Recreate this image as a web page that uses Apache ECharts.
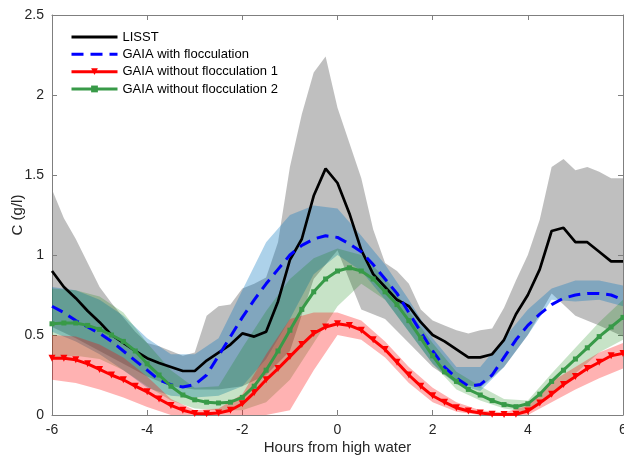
<!DOCTYPE html>
<html>
<head>
<meta charset="utf-8">
<script src="https://cdn.jsdelivr.net/npm/echarts@6/dist/echarts.min.js"></script>
<style>
html,body{margin:0;padding:0;background:#fff;}
#chart{width:624px;height:459px;}
</style>
</head>
<body>
<div id="chart"></div>
<script>
// ---- data ----
var hours = [-6,-5.75,-5.5,-5.25,-5,-4.75,-4.5,-4.25,-4,-3.75,-3.5,-3.25,-3,-2.75,-2.5,-2.25,-2,-1.75,-1.5,-1.25,-1,-0.75,-0.5,-0.25,0,0.25,0.5,0.75,1,1.25,1.5,1.75,2,2.25,2.5,2.75,3,3.25,3.5,3.75,4,4.25,4.5,4.75,5,5.25,5.5,5.75,6];
var lisst = [0.90,0.80,0.73,0.65,0.58,0.50,0.45,0.40,0.355,0.325,0.30,0.275,0.275,0.34,0.39,0.44,0.51,0.49,0.52,0.71,0.97,1.10,1.37,1.54,1.45,1.26,1.03,0.88,0.80,0.72,0.68,0.58,0.50,0.46,0.41,0.36,0.36,0.38,0.47,0.63,0.75,0.91,1.15,1.17,1.08,1.08,1.02,0.96,0.96];
var lisstMax = [1.41,1.23,1.10,0.95,0.80,0.70,0.61,0.52,0.45,0.43,0.40,0.37,0.39,0.62,0.68,0.69,0.79,0.82,0.86,1.08,1.55,1.88,2.14,2.24,1.92,1.70,1.48,1.16,0.95,0.90,0.82,0.66,0.59,0.56,0.53,0.51,0.53,0.54,0.67,0.84,1.00,1.22,1.55,1.60,1.53,1.55,1.52,1.48,1.48];
var gaiaFloc = [0.68,0.64,0.59,0.55,0.51,0.46,0.40,0.34,0.28,0.22,0.19,0.175,0.19,0.25,0.37,0.49,0.61,0.72,0.82,0.91,1.00,1.06,1.10,1.12,1.11,1.07,1.02,0.94,0.85,0.76,0.64,0.52,0.40,0.30,0.23,0.18,0.19,0.25,0.36,0.47,0.56,0.63,0.69,0.73,0.75,0.76,0.76,0.75,0.72];
var gaiaNoFloc1 = [0.355,0.355,0.345,0.32,0.285,0.25,0.22,0.18,0.145,0.10,0.06,0.03,0.01,0.008,0.012,0.03,0.07,0.14,0.22,0.29,0.365,0.44,0.51,0.55,0.57,0.56,0.53,0.47,0.41,0.33,0.25,0.18,0.12,0.08,0.045,0.025,0.012,0.005,0.003,0.005,0.025,0.075,0.13,0.19,0.24,0.29,0.33,0.37,0.385];
var gaiaNoFloc2 = [0.57,0.575,0.575,0.56,0.535,0.50,0.46,0.40,0.32,0.25,0.18,0.125,0.095,0.08,0.075,0.08,0.11,0.18,0.28,0.40,0.53,0.66,0.77,0.85,0.90,0.92,0.90,0.85,0.77,0.69,0.59,0.48,0.37,0.27,0.21,0.16,0.125,0.09,0.065,0.052,0.07,0.13,0.21,0.28,0.35,0.42,0.49,0.55,0.61];

var bandHours = [-6,-5.5,-5,-4.5,-4,-3.5,-3,-2.5,-2,-1.5,-1,-0.5,0,0.5,1,1.5,2,2.5,3,3.5,4,4.5,5,5.5,6];
var lisstMin = [0.55,0.48,0.40,0.32,0.24,0.18,0.16,0.16,0.18,0.25,0.40,0.85,1.03,0.66,0.60,0.45,0.30,0.20,0.17,0.30,0.50,0.76,0.62,0.56,0.49];
var flocHi = [0.80,0.78,0.72,0.62,0.48,0.38,0.38,0.48,0.78,1.08,1.25,1.31,1.29,1.12,0.94,0.72,0.48,0.30,0.30,0.48,0.66,0.79,0.84,0.84,0.81];
var flocLo = [0.52,0.46,0.38,0.28,0.17,0.12,0.11,0.12,0.18,0.35,0.60,0.88,1.00,0.90,0.72,0.52,0.32,0.19,0.15,0.30,0.50,0.72,0.71,0.72,0.68];
var noFloc2Hi = [0.79,0.78,0.74,0.64,0.45,0.28,0.17,0.18,0.42,0.65,0.85,0.98,1.04,1.00,0.86,0.65,0.45,0.27,0.18,0.10,0.09,0.26,0.42,0.58,0.72];
var noFloc2Lo = [0.36,0.37,0.35,0.28,0.18,0.09,0.04,0.03,0.03,0.08,0.22,0.45,0.68,0.82,0.72,0.52,0.32,0.16,0.09,0.04,0.02,0.13,0.26,0.39,0.47];
var noFloc1Hi = [0.50,0.49,0.44,0.36,0.24,0.10,0.03,0.04,0.13,0.38,0.60,0.64,0.64,0.59,0.46,0.30,0.17,0.08,0.03,0.015,0.06,0.21,0.30,0.39,0.45];
var noFloc1Lo = [0.22,0.20,0.16,0.11,0.05,0.0,0.0,0.0,0.0,0.0,0.03,0.28,0.50,0.47,0.36,0.20,0.08,0.02,0.0,0.0,0.0,0.08,0.16,0.23,0.29];

var xTicks = [-6,-4,-2,0,2,4,6];
var yTicks = [0,0.5,1,1.5,2,2.5];
var names = ['LISST','GAIA with flocculation','GAIA without flocculation 1','GAIA without flocculation 2'];

// ---- build ----
function pairs(xs, ys){ return xs.map(function(x,i){ return [x, ys[i]]; }); }

function bandSeries(upX, upY, loX, loY, fill, z){
  return {
    type: 'custom',
    coordinateSystem: 'cartesian2d',
    xAxisIndex: 0, yAxisIndex: 0,
    silent: true,
    z: z,
    data: [[upX[0], upY[0]]],
    renderItem: function(params, api){
      var pts = [];
      for (var i = 0; i < upX.length; i++) pts.push(api.coord([upX[i], upY[i]]));
      for (var j = loX.length - 1; j >= 0; j--) pts.push(api.coord([loX[j], loY[j]]));
      return { type: 'polygon', shape: { points: pts }, style: { fill: fill, stroke: null } };
    }
  };
}

var FONT = 'Liberation Sans, Arial, Helvetica, sans-serif';
var axisCol = '#7f7f7f';
var txtCol = '#262626';

var chart = echarts.init(document.getElementById('chart'), null, {renderer:'canvas'});
chart.setOption({
  animation: false,
  backgroundColor: '#ffffff',
  grid: { left: 52, right: 1, top: 15, bottom: 44, containLabel: false, outerBoundsMode: 'none' },
  legend: {
    orient: 'vertical', left: 70, top: 28.4, padding: 0,
    itemWidth: 46, itemHeight: 8.5, itemGap: 0,
    lineStyle: { width: 3 },
    data: [
      { name: names[0], itemStyle: { opacity: 0 } },
      { name: names[1], itemStyle: { opacity: 0 } },
      { name: names[2] },
      { name: names[3] }
    ],
    textStyle: { fontFamily: FONT, fontSize: 13, color: '#000', lineHeight: 17.3 },
    selectedMode: false
  },
  xAxis: [{
    type: 'value', min: -6, max: 6, interval: 2,
    name: 'Hours from high water', nameLocation: 'middle', nameGap: 25, nameMoveOverlap: false,
    nameTextStyle: { fontFamily: FONT, fontSize: 15, color: txtCol },
    axisLine: { show: true, onZero: false, lineStyle: { color: axisCol, width: 1 } },
    axisTick: { show: true, inside: true, length: 5, lineStyle: { color: axisCol } },
    axisLabel: { fontFamily: FONT, fontSize: 14, color: txtCol, margin: 8,
      formatter: function(v){ return xTicks.indexOf(v) >= 0 ? String(v) : ''; } },
    splitLine: { show: false }
  },{
    type: 'value', min: -6, max: 6, interval: 2, position: 'top',
    axisLine: { show: true, onZero: false, lineStyle: { color: axisCol, width: 1 } },
    axisTick: { show: true, inside: true, length: 5, lineStyle: { color: axisCol } },
    axisLabel: { show: false }, splitLine: { show: false }
  }],
  yAxis: [{
    type: 'value', min: 0, max: 2.5, interval: 0.5,
    name: 'C (g/l)', nameLocation: 'middle', nameGap: 27, nameRotate: 90, nameMoveOverlap: false,
    nameTextStyle: { fontFamily: FONT, fontSize: 15, color: txtCol },
    axisLine: { show: true, onZero: false, lineStyle: { color: axisCol, width: 1 } },
    axisTick: { show: true, inside: true, length: 5, lineStyle: { color: axisCol } },
    axisLabel: { fontFamily: FONT, fontSize: 14, color: txtCol, margin: 8,
      formatter: function(v){ return yTicks.indexOf(v) >= 0 ? String(v) : ''; } },
    splitLine: { show: false }
  },{
    type: 'value', min: 0, max: 2.5, interval: 0.5, position: 'right',
    axisLine: { show: true, onZero: false, lineStyle: { color: axisCol, width: 1 } },
    axisTick: { show: true, inside: true, length: 5, lineStyle: { color: axisCol } },
    axisLabel: { show: false }, splitLine: { show: false }
  }],
  series: [
    bandSeries(hours, lisstMax, bandHours, lisstMin, 'rgba(128,128,128,0.5)', 1),
    bandSeries(bandHours, flocHi, bandHours, flocLo, 'rgba(0,114,189,0.32)', 1),
    bandSeries(bandHours, noFloc2Hi, bandHours, noFloc2Lo, 'rgba(0,128,0,0.22)', 1),
    bandSeries(bandHours, noFloc1Hi, bandHours, noFloc1Lo, 'rgba(255,0,0,0.3)', 1),
    {
      name: names[0], type: 'line', z: 5, data: pairs(hours, lisst),
      symbol: 'none', color: '#000000',
      lineStyle: { color: '#000000', width: 2.7 }
    },
    {
      name: names[1], type: 'line', z: 6, data: pairs(hours, gaiaFloc),
      symbol: 'none', color: '#0000ff',
      lineStyle: { color: '#0000ff', width: 3, type: [12, 7] }
    },
    {
      name: names[2], type: 'line', z: 7, data: pairs(hours, gaiaNoFloc1),
      symbol: 'triangle', symbolRotate: 180, symbolSize: 7, showSymbol: true,
      color: '#ff0000',
      itemStyle: { color: '#ff0000' },
      lineStyle: { color: '#ff0000', width: 3 }
    },
    {
      name: names[3], type: 'line', z: 8, data: pairs(hours, gaiaNoFloc2),
      symbol: 'rect', symbolSize: 5, showSymbol: true,
      color: '#389a48',
      itemStyle: { color: '#389a48' },
      lineStyle: { color: '#389a48', width: 3 }
    }
  ]
});
</script>
</body>
</html>
